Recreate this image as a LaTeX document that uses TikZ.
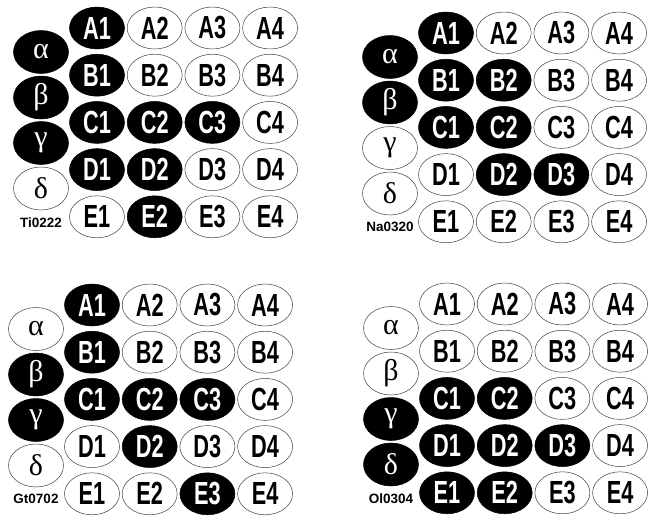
\documentclass[tikz,border=0pt]{standalone}
\usepackage{fontspec}
\usetikzlibrary{positioning,shapes.geometric}
\newfontfamily\cellfont[FakeStretch=0.68]{Liberation Sans}
\newfontfamily\tagfont{Liberation Sans}
\newfontfamily\grkfont{Liberation Serif}

% one plate: greek column, 5x4 grid of wells and its tag
\newcommand{\plate}[2]{%
  \foreach \g [count=\i] in {α,β,γ,δ}
    \node[grk, g\i/.try] (#1-g\i) at (-56, {24+45.5*(\i-1)}) {\g};
  \foreach \r [count=\ri from 0] in {A,B,C,D,E}
    \foreach \c in {1,...,4}
      \node[cell, \r\c/.try] (#1-\r\c) at ({57.7*(\c-1)}, {47.2*\ri}) {\r\c};
  \node[tag, below=7pt of #1-g4] (#1-tag) {#2};
}

\begin{document}
\begin{tikzpicture}[
  x=1pt, y=-1pt,
  cell/.style={ellipse, draw=black!75, line width=0.5pt, fill=white,
               minimum width=55pt, minimum height=42pt, inner sep=0pt,
               font=\cellfont\bfseries\fontsize{32}{32}\selectfont},
  grk/.style={cell, minimum height=43pt, font=\grkfont\fontsize{30}{30}\selectfont},
  dark/.style={draw=black, fill=black, text=white},
  tag/.style={inner sep=0pt, font=\tagfont\bfseries\fontsize{13.5}{14}\selectfont}
]
\useasboundingbox (0,0) rectangle (657,515);

\begin{scope}[shift={(97,28)},
  g1/.style=dark, g2/.style=dark, g3/.style=dark,
  A1/.style=dark, B1/.style=dark, C1/.style=dark, C2/.style=dark,
  C3/.style=dark, D1/.style=dark, D2/.style=dark, E2/.style=dark]
  \plate{ti}{Ti0222}
\end{scope}

\begin{scope}[shift={(446,33)},
  g1/.style=dark, g2/.style=dark,
  A1/.style=dark, B1/.style=dark, B2/.style=dark, C1/.style=dark,
  C2/.style=dark, D2/.style=dark, D3/.style=dark]
  \plate{na}{Na0320}
\end{scope}

\begin{scope}[shift={(92,305)},
  g2/.style=dark, g3/.style=dark,
  A1/.style=dark, B1/.style=dark, C1/.style=dark, C2/.style=dark,
  C3/.style=dark, D2/.style=dark, E3/.style=dark]
  \plate{gt}{Gt0702}
\end{scope}

\begin{scope}[shift={(447,304)},
  g3/.style=dark, g4/.style=dark,
  C1/.style=dark, C2/.style=dark, D1/.style=dark, D2/.style=dark,
  D3/.style=dark, E1/.style=dark, E2/.style=dark]
  \plate{ol}{Ol0304}
\end{scope}
\end{tikzpicture}
\end{document}
